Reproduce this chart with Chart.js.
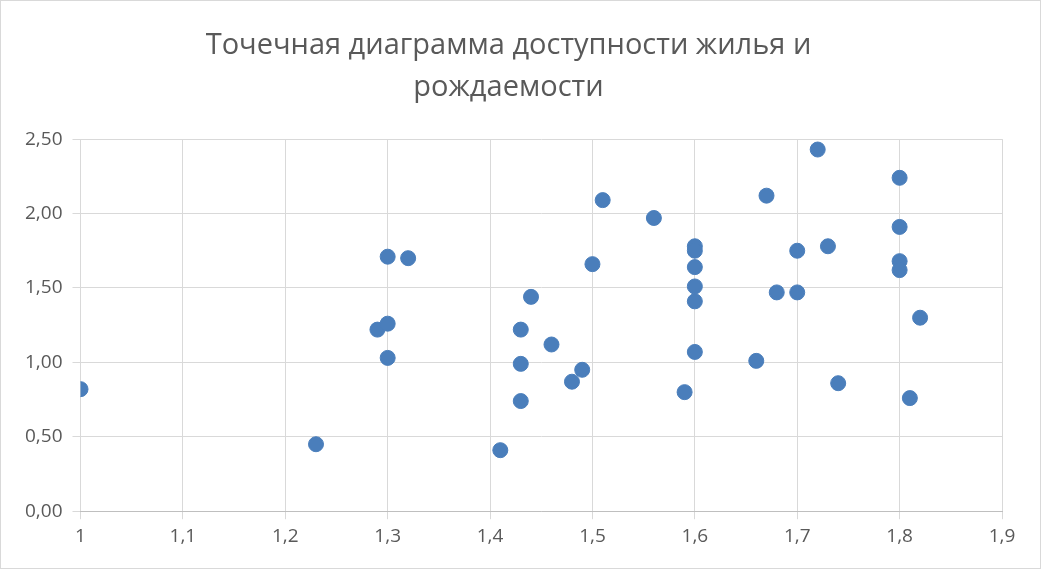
<!DOCTYPE html>
<html>
<head>
<meta charset="utf-8">
<script src="https://cdn.jsdelivr.net/npm/chart.js@4"></script>
<style>
  html, body { margin: 0; padding: 0; background: #fff; }
  .widget { width: 1041px; height: 569px; position: relative; box-sizing: border-box; border: 1px solid #d9d9d9; }
</style>
</head>
<body>
<div class="widget"><canvas id="scatter"></canvas></div>
<script>
// values
const housing = [1.00, 1.23, 1.29, 1.30, 1.30, 1.30, 1.32, 1.41, 1.43, 1.43, 1.43, 1.44, 1.46, 1.48, 1.49, 1.50, 1.51, 1.56, 1.59,
  1.60, 1.60, 1.60, 1.60, 1.60, 1.60, 1.66, 1.67, 1.68, 1.70, 1.70, 1.72, 1.73, 1.74, 1.80, 1.80, 1.80, 1.80, 1.81, 1.82];
const births = [0.82, 0.45, 1.22, 1.26, 1.03, 1.71, 1.70, 0.41, 1.22, 0.99, 0.74, 1.44, 1.12, 0.87, 0.95, 1.66, 2.09, 1.97, 0.80,
  1.78, 1.75, 1.64, 1.51, 1.41, 1.07, 1.01, 2.12, 1.47, 1.75, 1.47, 2.43, 1.78, 0.86, 2.24, 1.91, 1.68, 1.62, 0.76, 1.30];
const titleLines = ['Точечная диаграмма доступности жилья и', 'рождаемости'];

const points = housing.map((x, i) => ({ x: x, y: births[i] }));
const fmt = (v, d) => v.toFixed(d).replace('.', ',');

new Chart(document.getElementById('scatter'), {
  type: 'scatter',
  data: {
    datasets: [{
      data: points,
      backgroundColor: '#4a7ebb',
      borderColor: '#4a7ebb',
      pointRadius: 7.5,
      pointHoverRadius: 7.5,
    }],
  },
  options: {
    responsive: true,
    maintainAspectRatio: false,
    animation: false,
    layout: { padding: { left: 14, right: 38, top: 24, bottom: 14 } },
    plugins: {
      legend: { display: false },
      tooltip: { enabled: false },
      title: {
        display: true,
        text: titleLines,
        color: '#595959',
        font: { family: 'Open Sans', size: 29, weight: 'normal', lineHeight: 1.45 },
        padding: { bottom: 30 },
      },
    },
    scales: {
      x: {
        min: 1, max: 1.9,
        grid: { color: '#d9d9d9' },
        border: { color: '#bfbfbf' },
        ticks: {
          stepSize: 0.1,
          color: '#595959',
          font: { family: 'Open Sans', size: 19 },
          padding: 6,
          callback: v => Math.abs(v - 1) < 1e-9 ? '1' : fmt(v, 1),
        },
      },
      y: {
        min: 0, max: 2.5,
        grid: { color: '#d9d9d9' },
        border: { display: false },
        ticks: {
          stepSize: 0.5,
          color: '#595959',
          font: { family: 'Open Sans', size: 19 },
          padding: 10,
          callback: v => fmt(v, 2),
        },
      },
    },
  },
});
</script>
</body>
</html>
